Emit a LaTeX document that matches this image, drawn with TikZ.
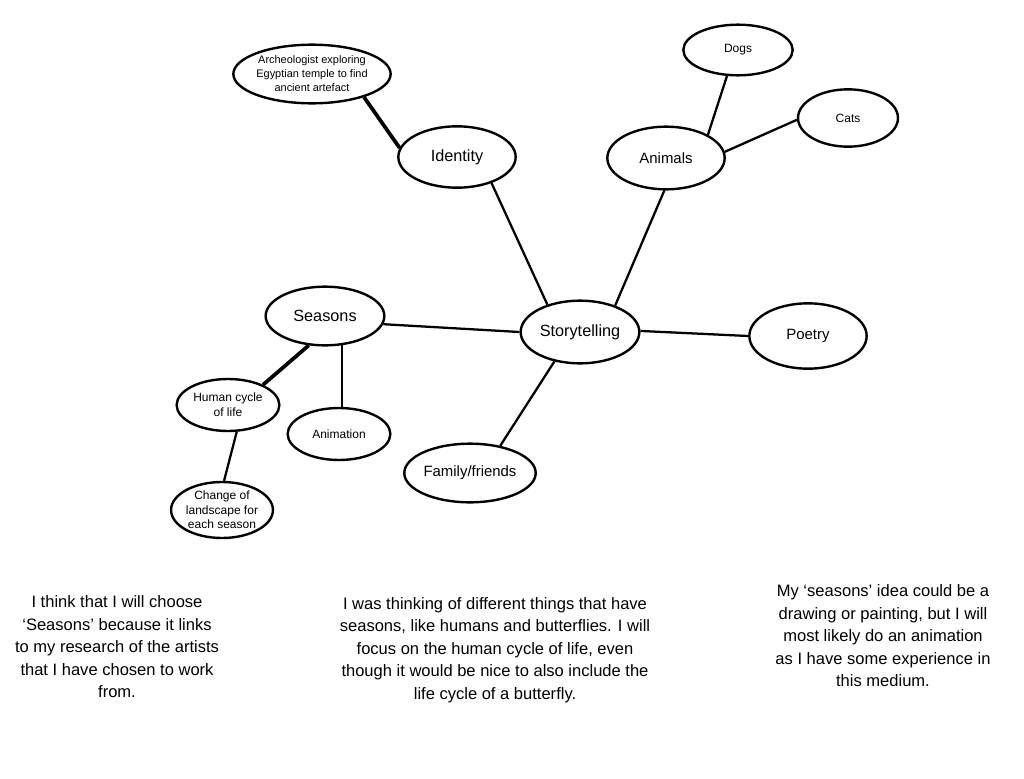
\documentclass[tikz,border=0pt]{standalone}
\usepackage{fontspec}
\setmainfont{Liberation Sans}
\usetikzlibrary{shapes.geometric}

\begin{document}
\begin{tikzpicture}[x=0.75pt, y=-0.75pt,
    bubble/.style={ellipse, draw, line width=1.8pt, inner sep=0pt, align=center},
    big/.style={font=\fontsize{12.2}{14}\selectfont},
    mid/.style={font=\fontsize{11.2}{13}\selectfont},
    small/.style={font=\fontsize{9}{11}\selectfont},
    tiny/.style={font=\fontsize{8.2}{10.5}\selectfont},
    link/.style={line width=1.7pt},
    heavy/.style={line width=2.8pt},
    note/.style={align=center, font=\fontsize{12.4}{16.9}\selectfont}]
    \useasboundingbox (0,0) rectangle (1024,778);

    % Centro
    \node[bubble, big, minimum width=89pt, minimum height=47pt] (story) at (580,332) {Storytelling};

    % Rami principali
    \node[bubble, big, minimum width=88pt, minimum height=46pt] (identity) at (457,157) {Identity};
    \node[bubble, mid, minimum width=88pt, minimum height=47pt] (animals) at (666,158) {Animals};
    \node[bubble, big, minimum width=89pt, minimum height=44pt] (seasons) at (325,316) {Seasons};
    \node[bubble, mid, minimum width=88pt, minimum height=49pt] (poetry) at (808,336) {Poetry};
    \node[bubble, mid, minimum width=90pt, minimum height=44pt] (family) at (470,473) {Family/friends};

    % Sotto-rami
    \node[bubble, tiny, minimum width=113pt, minimum height=44pt] (artefact) at (312,74) {Archeologist exploring\\Egyptian temple to find\\ancient artefact};
    \node[bubble, small, minimum width=82pt, minimum height=38pt] (dogs) at (738,50) {Dogs};
    \node[bubble, small, minimum width=75pt, minimum height=43pt] (cats) at (848,118) {Cats};
    \node[bubble, small, minimum width=77pt, minimum height=39pt] (lifecycle) at (228,405) {Human cycle\\of life};
    \node[bubble, small, minimum width=77pt, minimum height=39pt] (animation) at (339,434) {Animation};
    \node[bubble, small, minimum width=75pt, minimum height=42pt] (landscape) at (222,510) {Change of\\landscape for\\each season};

    % Connessioni
    \draw[link] (identity.-37) -- (story.140);
    \draw[link] (animals.-93) -- (story.37);
    \draw[link] (seasons.-8) -- (story.180);
    \draw[link] (story.1) -- (poetry.180);
    \draw[link] (story.-131) -- (family.42);
    \draw[heavy] (artefact.-24) -- (identity.171);
    \draw[link] (dogs.-113) -- (animals.29);
    \draw[link] (cats.-178) -- (animals.6);
    \draw[heavy] (seasons.-119) -- (lifecycle.30);
    \draw[link] (seasons.-60) -- (seasons.-60 |- animation.north);
    \draw[link] (lifecycle.-72) -- (landscape.86);

    % Note
    \node[note] (noteleft) at (117,647) {I think that I will choose\\‘Seasons’ because it links\\to my research of the artists\\that I have chosen to work\\from.};
    \node[note] (notemid) at (495,650) {I was thinking of different things that have\\seasons, like humans and butterflies. I will\\focus on the human cycle of life, even\\though it would be nice to also include the\\life cycle of a butterfly.};
    \node[note] (noteright) at (883,636) {My ‘seasons’ idea could be a\\drawing or painting, but I will\\most likely do an animation\\as I have some experience in\\this medium.};
\end{tikzpicture}
\end{document}
